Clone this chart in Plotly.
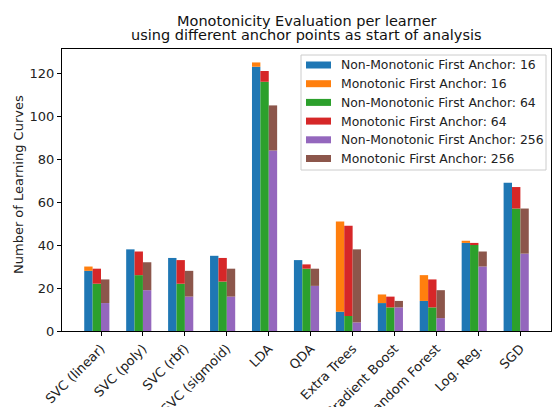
import plotly.graph_objects as go

learners = ["SVC (linear)", "SVC (poly)", "SVC (rbf)", "SVC (sigmoid)", "LDA", "QDA",
            "Extra Trees", "Gradient Boost", "Random Forest", "Log. Reg.", "SGD"]

# totals (non-monotonic bottom, monotonic stacked on top)
nonmono_16 = [28, 38, 34, 35, 123, 33, 9, 13, 14, 41, 69]
total_16 = [30, 38, 34, 35, 125, 33, 51, 17, 26, 42, 69]
nonmono_64 = [22, 26, 22, 23, 116, 29, 7, 11, 11, 40, 57]
total_64 = [29, 37, 33, 34, 121, 31, 49, 16, 24, 41, 67]
nonmono_256 = [13, 19, 16, 16, 84, 21, 4, 11, 6, 30, 36]
total_256 = [24, 32, 28, 29, 105, 29, 38, 14, 19, 37, 57]

mono_16 = [t - n for t, n in zip(total_16, nonmono_16)]
mono_64 = [t - n for t, n in zip(total_64, nonmono_64)]
mono_256 = [t - n for t, n in zip(total_256, nonmono_256)]

anchors = ["16", "64", "256"]
series = [
    (nonmono_16, mono_16, "#1f77b4", "#ff7f0e"),
    (nonmono_64, mono_64, "#2ca02c", "#d62728"),
    (nonmono_256, mono_256, "#9467bd", "#8c564b"),
]
offsets = [-0.3, -0.1, 0.1]
W = 0.2
FONT = "DejaVu Sans, sans-serif"
FS = 13

fig = go.Figure()
idx = list(range(len(learners)))
for (nm, mo, c1, c2), off, a in zip(series, offsets, anchors):
    xs = [i + off for i in idx]
    fig.add_trace(go.Bar(x=xs, y=nm, width=W, marker=dict(color=c1, line=dict(width=0)),
                         name="Non-Monotonic First Anchor: " + a, showlegend=False))
    fig.add_trace(go.Bar(x=xs, y=mo, base=nm, width=W, marker=dict(color=c2, line=dict(width=0)),
                         name="Monotonic First Anchor: " + a, showlegend=False))

legend_labels = []
legend_colors = []
for (nm, mo, c1, c2), a in zip(series, anchors):
    legend_labels += ["Non-Monotonic First Anchor: " + a, "Monotonic First Anchor: " + a]
    legend_colors += [c1, c2]

H = 407
L, R, T, B = 62, 551, 49, 331
def px(x):
    return (x - L) / (R - L)
def pyy(y):
    return (B - y) / (B - T)

shapes = []
annotations = []
shapes.append(dict(type="rect", xref="paper", yref="paper", x0=px(301), x1=px(546),
                   y0=pyy(170), y1=pyy(55), line=dict(color="#cccccc", width=1),
                   fillcolor="rgba(255,255,255,0.8)", layer="above"))
for k, (lab, col) in enumerate(zip(legend_labels, legend_colors)):
    yc = 65 + k * 18.7
    shapes.append(dict(type="rect", xref="paper", yref="paper", x0=px(306), x1=px(331),
                       y0=pyy(yc + 3.5), y1=pyy(yc - 3.5), line=dict(width=0), fillcolor=col,
                       layer="above"))
    annotations.append(dict(xref="paper", yref="paper", x=px(339), y=pyy(yc), text=lab,
                            showarrow=False, xanchor="left", yanchor="middle",
                            font=dict(family=FONT, size=12.4, color="#222")))

annotations.append(dict(xref="paper", yref="paper", x=0.5, y=pyy(21), yanchor="middle",
                        text="Monotonicity Evaluation per learner",
                        showarrow=False, font=dict(family=FONT, size=14.5, color="#111")))
annotations.append(dict(xref="paper", yref="paper", x=0.5, y=pyy(34.5), yanchor="middle",
                        text="using different anchor points as start of analysis",
                        showarrow=False, font=dict(family=FONT, size=14.5, color="#111")))
annotations.append(dict(xref="paper", yref="paper", x=px(18), y=pyy(185), xanchor="center",
                        yanchor="middle", textangle=-90, text="Number of Learning Curves",
                        showarrow=False, font=dict(family=FONT, size=FS, color="#222")))

fig.update_layout(
    barmode="overlay",
    width=552, height=407,
    margin=dict(l=L, r=552 - R, t=T, b=H - B),
    paper_bgcolor="white", plot_bgcolor="white",
    showlegend=False,
    shapes=shapes, annotations=annotations,
    font=dict(family=FONT, size=FS, color="#222"),
    xaxis=dict(range=[-0.93, 10.73], tickvals=idx, ticktext=learners, tickangle=-45,
               showline=True, linecolor="black", linewidth=1, mirror=True, automargin=False,
               ticks="outside", ticklen=4, tickcolor="black", showgrid=False, zeroline=False,
               tickfont=dict(family=FONT, size=FS, color="#222")),
    yaxis=dict(range=[0, 131.25], tickvals=[0, 20, 40, 60, 80, 100, 120],
               showline=True, linecolor="black", linewidth=1, mirror=True, automargin=False,
               ticks="outside", ticklen=4, tickcolor="black", showgrid=False, zeroline=False,
               tickfont=dict(family=FONT, size=FS, color="#222")),
)

fig.write_html("out.html", config={"displayModeBar": False},
               post_script="document.body.style.margin='0';document.body.style.overflow='hidden';")
